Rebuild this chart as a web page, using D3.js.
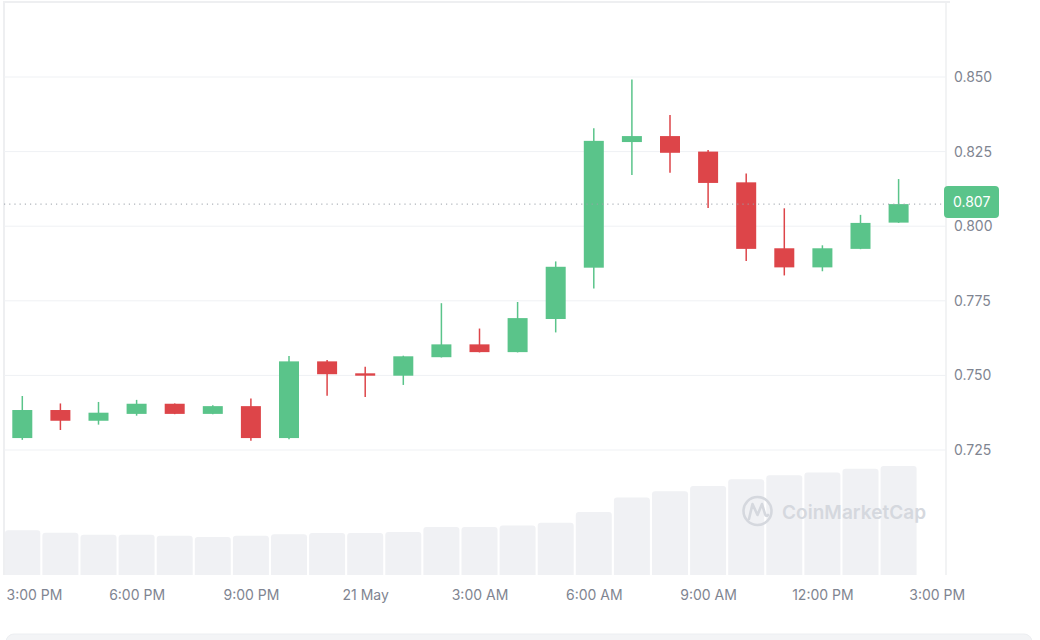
<!DOCTYPE html>
<html>
<head>
<meta charset="utf-8">
<script src="https://cdn.jsdelivr.net/npm/d3@7"></script>
<style>
  html, body { margin: 0; padding: 0; background: #ffffff; }
  svg { display: block; font-family: Inter, "Noto Sans", sans-serif; }
</style>
</head>
<body>
<svg id="chart" width="1040" height="640"></svg>
<script>
// ---------- DATA ----------
const times = [
  "2024-05-20T15:00","2024-05-20T16:00","2024-05-20T17:00","2024-05-20T18:00",
  "2024-05-20T19:00","2024-05-20T20:00","2024-05-20T21:00","2024-05-20T22:00",
  "2024-05-20T23:00","2024-05-21T00:00","2024-05-21T01:00","2024-05-21T02:00",
  "2024-05-21T03:00","2024-05-21T04:00","2024-05-21T05:00","2024-05-21T06:00",
  "2024-05-21T07:00","2024-05-21T08:00","2024-05-21T09:00","2024-05-21T10:00",
  "2024-05-21T11:00","2024-05-21T12:00","2024-05-21T13:00","2024-05-21T14:00"
];
const openP  = [0.7290,0.7384,0.7348,0.7371,0.7405,0.7371,0.7397,0.7290,0.7547,0.7507,0.7499,0.7561,
                0.7604,0.7578,0.7689,0.7861,0.8282,0.8302,0.8250,0.8147,0.7926,0.7862,0.7924,0.8012];
const highP  = [0.7431,0.7406,0.7411,0.7418,0.7406,0.7400,0.7423,0.7565,0.7552,0.7529,0.7566,0.7742,
                0.7657,0.7746,0.7882,0.8328,0.8492,0.8373,0.8255,0.8177,0.8060,0.7936,0.8038,0.8158];
const lowP   = [0.7284,0.7317,0.7335,0.7365,0.7370,0.7370,0.7281,0.7286,0.7432,0.7428,0.7468,0.7560,
                0.7577,0.7577,0.7644,0.7791,0.8172,0.8179,0.8061,0.7883,0.7835,0.7849,0.7923,0.8011];
const closeP = [0.7384,0.7348,0.7375,0.7405,0.7371,0.7397,0.7290,0.7547,0.7504,0.7499,0.7564,0.7604,
                0.7578,0.7692,0.7864,0.8286,0.8302,0.8246,0.8145,0.7924,0.7862,0.7926,0.8011,0.8074];
const volume = [11.2,10.6,10.1,10.1,9.8,9.5,9.8,10.2,10.5,10.5,10.8,12.0,
                12.0,12.4,13.1,15.8,19.4,21.0,22.3,24.0,25.0,25.7,26.6,27.3];
const priceTicks = [0.725,0.750,0.775,0.800,0.825,0.850];
const timeTicks  = ["2024-05-20T15:00","2024-05-20T18:00","2024-05-20T21:00","2024-05-21T00:00",
                    "2024-05-21T03:00","2024-05-21T06:00","2024-05-21T09:00","2024-05-21T12:00","2024-05-21T15:00"];
const timeTickLabels = ["3:00 PM","6:00 PM","9:00 PM","21 May","3:00 AM","6:00 AM","9:00 AM","12:00 PM","3:00 PM"];
const currentPrice = 0.8074;

// ---------- SETUP ----------
const parse = d3.isoParse;
const data = times.map((t,i)=>({t:parse(t), o:openP[i], h:highP[i], l:lowP[i], c:closeP[i], v:volume[i]}));

const svg = d3.select("#chart");
const plotLeft = 4, plotRight = 946, plotTop = 2, plotBottom = 575;
const GREEN = "#5ac48a", RED = "#dd4549";

const x = d3.scaleTime()
  .domain([parse("2024-05-20T15:00"), parse("2024-05-21T15:00")])
  .range([22.3, 936.7]);
const y = d3.scaleLinear().domain([0.725, 0.850]).range([450, 77]);
const yVol = d3.scaleLinear().domain([0, 27.3]).range([plotBottom, 466]);

// frame
svg.append("path")
  .attr("d", `M${plotLeft},${plotBottom} L${plotLeft},${plotTop} L${plotRight+4},${plotTop}`)
  .attr("fill","none").attr("stroke","#eeeff1").attr("stroke-width",2);
svg.append("line")
  .attr("x1",plotRight).attr("x2",plotRight).attr("y1",plotTop).attr("y2",plotBottom)
  .attr("stroke","#eeeff1").attr("stroke-width",1.5);

// gridlines
svg.append("g").selectAll("line").data(priceTicks).join("line")
  .attr("x1",plotLeft).attr("x2",plotRight)
  .attr("y1",d=>y(d)).attr("y2",d=>y(d))
  .attr("stroke","#eff1f4").attr("stroke-width",1);

// volume bars
const volW = 36;
svg.append("g").selectAll("path").data(data).join("path")
  .attr("fill","#f0f1f4")
  .attr("d", d => {
    const x0 = Math.max(plotLeft+1, x(d.t) - volW/2), x1 = x(d.t) + volW/2;
    const yt = yVol(d.v), yb = yVol(0), r = 3;
    return `M${x0},${yb} L${x0},${yt+r} Q${x0},${yt} ${x0+r},${yt} L${x1-r},${yt} Q${x1},${yt} ${x1},${yt+r} L${x1},${yb} Z`;
  });

// watermark
const wm = svg.append("g");
wm.append("circle").attr("cx",757.5).attr("cy",511).attr("r",14)
  .attr("fill","none").attr("stroke","#d5d8de").attr("stroke-width",2.6);
wm.append("path")
  .attr("d","M749,519 L752.5,504 L757.5,515 L762,504 L765,514 Q766,517 768,515")
  .attr("fill","none").attr("stroke","#d5d8de").attr("stroke-width",2.6)
  .attr("stroke-linejoin","round").attr("stroke-linecap","round");
wm.append("text").attr("x",782).attr("y",512).attr("dy","0.35em")
  .attr("font-size",19).attr("font-weight",600).attr("fill","#d5d8de")
  .attr("textLength",144).attr("lengthAdjust","spacing")
  .text("CoinMarketCap");

// candles
const candleW = 20;
const cg = svg.append("g");
cg.selectAll("line").data(data).join("line")
  .attr("x1",d=>x(d.t)).attr("x2",d=>x(d.t))
  .attr("y1",d=>y(d.h)).attr("y2",d=>y(d.l))
  .attr("stroke",d=>d.c>=d.o?GREEN:RED).attr("stroke-width",1.5);
cg.selectAll("rect").data(data).join("rect")
  .attr("x",d=>x(d.t)-candleW/2).attr("width",candleW)
  .attr("y",d=>y(Math.max(d.o,d.c)))
  .attr("height",d=>Math.max(2, Math.abs(y(d.o)-y(d.c))))
  .attr("fill",d=>d.c>=d.o?GREEN:RED);

// current price dotted line
svg.append("line")
  .attr("x1",plotLeft).attr("x2",plotRight-2)
  .attr("y1",y(currentPrice)).attr("y2",y(currentPrice))
  .attr("stroke","#9aa0a8").attr("stroke-width",1).attr("stroke-dasharray","1.2,4");

// y axis
const yAxis = svg.append("g").attr("transform",`translate(${plotRight},0)`)
  .call(d3.axisRight(y).tickValues(priceTicks).tickFormat(d3.format(".3f")).tickSize(0).tickPadding(8));
yAxis.select(".domain").remove();
yAxis.selectAll("text").attr("font-size",14).attr("fill","#7f8591").attr("font-family","Inter, sans-serif");

// current price label
const py = y(currentPrice) - 2;
svg.append("rect").attr("x",944).attr("y",py-16).attr("width",55).attr("height",32).attr("rx",4)
  .attr("fill",GREEN);
svg.append("text").attr("x",953).attr("y",py).attr("dy","0.35em")
  .attr("font-size",14).attr("fill","#ffffff").text(d3.format(".3f")(currentPrice));

// x axis
const xAxis = svg.append("g").attr("transform",`translate(0,${plotBottom})`)
  .call(d3.axisBottom(x).tickValues(timeTicks.map(parse)).tickFormat((d,i)=>timeTickLabels[i]).tickSize(0).tickPadding(15));
xAxis.select(".domain").remove();
xAxis.selectAll("text").attr("font-size",14).attr("fill","#7f8591").attr("font-family","Inter, sans-serif");
xAxis.selectAll("text").filter((d,i)=>i===0).attr("text-anchor","start").attr("x",6 - x(parse(timeTicks[0])));

// bottom strip
svg.append("rect").attr("x",6).attr("y",634).attr("width",1026).attr("height",20).attr("rx",8)
  .attr("fill","#f3f4f6").attr("stroke","#eceef1");
</script>
</body>
</html>
